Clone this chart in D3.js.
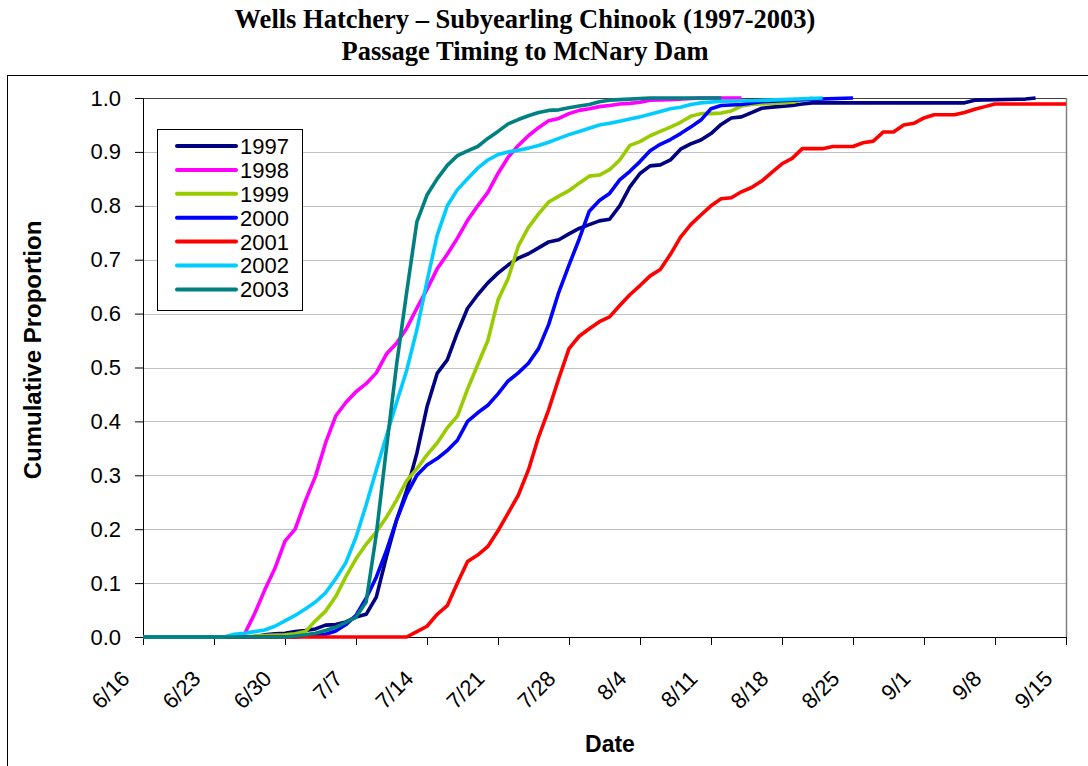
<!DOCTYPE html>
<html><head><meta charset="utf-8">
<script src="https://cdn.jsdelivr.net/npm/d3@7"></script>
<style>body{margin:0;background:#fff;} svg{display:block;}</style>
</head><body>
<svg id="chart" width="1088" height="766"></svg>
<script>
// ---- data ----
const startDate = "6/16/2001";
const endDate = "9/15/2001";
const tickLabels = ["6/16","6/23","6/30","7/7","7/14","7/21","7/28","8/4","8/11","8/18","8/25","9/1","9/8","9/15"];
const yTicks = [0,0.1,0.2,0.3,0.4,0.5,0.6,0.7,0.8,0.9,1.0];
const years = ["1997","1998","1999","2000","2001","2002","2003"];
const colors = ["#000080","#FF00FF","#99CC00","#0000FF","#FF0000","#00CCFF","#008080"];
// [days after 6/16, cumulative proportion]
const s1997 = [[0,0],[11,0],[12,0.004],[13,0.006],[14,0.007],[15,0.01],[16,0.012],[17,0.015],[18,0.022],[19,0.023],[20,0.028],[21,0.037],[22,0.042],[23,0.074],[24,0.149],[25,0.217],[26,0.272],[27,0.341],[28,0.427],[29,0.489],[30,0.514],[31,0.565],[32,0.61],[33,0.635],[34,0.657],[35,0.675],[36,0.69],[37,0.703],[38,0.711],[39,0.722],[40,0.733],[41,0.737],[42,0.748],[43,0.758],[44,0.765],[45,0.772],[46,0.775],[47,0.8],[48,0.835],[49,0.86],[50,0.874],[51,0.876],[52,0.885],[53,0.905],[54,0.915],[55,0.922],[56,0.934],[57,0.951],[58,0.963],[59,0.965],[60,0.973],[61,0.981],[62,0.983],[64,0.986],[65,0.989],[66,0.991],[81,0.991],[82,0.996],[87,0.998],[88,1.0]];
const s1998 = [[0,0],[9,0],[10,0.005],[11,0.043],[12,0.087],[13,0.127],[14,0.178],[15,0.2],[16,0.252],[17,0.298],[18,0.36],[19,0.41],[20,0.435],[21,0.455],[22,0.47],[23,0.49],[24,0.525],[25,0.545],[26,0.573],[27,0.61],[28,0.645],[29,0.683],[30,0.71],[31,0.74],[32,0.773],[33,0.8],[34,0.825],[35,0.86],[36,0.89],[37,0.912],[38,0.93],[39,0.945],[40,0.958],[41,0.962],[42,0.971],[43,0.977],[44,0.98],[45,0.984],[46,0.986],[47,0.989],[48,0.99],[49,0.992],[50,0.996],[52,0.997],[55,1.0],[59,1.0]];
const s1999 = [[0,0],[10,0],[11,0.002],[14,0.004],[15,0.006],[16,0.01],[17,0.03],[18,0.048],[19,0.075],[20,0.112],[21,0.145],[22,0.172],[23,0.195],[24,0.222],[25,0.254],[26,0.29],[27,0.312],[28,0.338],[29,0.36],[30,0.388],[31,0.41],[32,0.46],[33,0.505],[34,0.55],[35,0.625],[36,0.665],[37,0.725],[38,0.76],[39,0.785],[40,0.807],[41,0.818],[42,0.828],[43,0.842],[44,0.855],[45,0.857],[46,0.867],[47,0.885],[48,0.912],[49,0.919],[50,0.93],[51,0.938],[52,0.946],[53,0.955],[54,0.966],[55,0.971],[56,0.971],[57,0.972],[58,0.976],[59,0.985],[60,0.988],[62,0.99],[64,0.992],[66,1.0]];
const s2000 = [[0,0],[15,0],[16,0.002],[17,0.003],[18,0.005],[19,0.011],[20,0.023],[21,0.04],[22,0.072],[23,0.111],[24,0.16],[25,0.217],[26,0.265],[27,0.3],[28,0.319],[29,0.331],[30,0.346],[31,0.365],[32,0.4],[33,0.416],[34,0.43],[35,0.451],[36,0.475],[37,0.49],[38,0.508],[39,0.535],[40,0.58],[41,0.64],[42,0.69],[43,0.738],[44,0.79],[45,0.81],[46,0.823],[47,0.848],[48,0.864],[49,0.882],[50,0.902],[51,0.914],[52,0.923],[53,0.934],[54,0.946],[55,0.959],[56,0.98],[57,0.986],[59,0.988],[61,0.993],[65,0.997],[70,1.0]];
const s2001 = [[0,0],[26,0],[27,0.01],[28,0.02],[29,0.042],[30,0.058],[31,0.1],[32,0.14],[33,0.152],[34,0.168],[35,0.197],[36,0.23],[37,0.263],[38,0.31],[39,0.371],[40,0.422],[41,0.48],[42,0.535],[43,0.558],[44,0.572],[45,0.585],[46,0.594],[47,0.615],[48,0.635],[49,0.652],[50,0.67],[51,0.682],[52,0.71],[53,0.742],[54,0.765],[55,0.783],[56,0.8],[57,0.813],[58,0.815],[59,0.826],[60,0.834],[61,0.846],[62,0.862],[63,0.878],[64,0.888],[65,0.906],[67,0.906],[68,0.91],[70,0.91],[71,0.917],[72,0.92],[73,0.937],[74,0.937],[75,0.95],[76,0.953],[77,0.963],[78,0.969],[80,0.969],[81,0.973],[82,0.979],[83,0.984],[84,0.989],[91,0.989]];
const s2002 = [[0,0],[8,0],[9,0.005],[10,0.007],[11,0.01],[12,0.013],[13,0.02],[14,0.03],[15,0.04],[16,0.052],[17,0.065],[18,0.082],[19,0.108],[20,0.138],[21,0.185],[22,0.245],[23,0.31],[24,0.373],[25,0.435],[26,0.495],[27,0.57],[28,0.66],[29,0.745],[30,0.8],[31,0.83],[32,0.85],[33,0.87],[34,0.885],[35,0.895],[36,0.9],[37,0.903],[38,0.907],[39,0.912],[40,0.918],[41,0.925],[42,0.932],[43,0.938],[44,0.944],[45,0.95],[46,0.953],[47,0.957],[48,0.961],[49,0.965],[50,0.97],[51,0.975],[52,0.98],[53,0.983],[54,0.988],[55,0.991],[57,0.994],[60,0.995],[63,0.997],[67,1.0]];
const s2003 = [[0,0],[14,0],[15,0.002],[16,0.004],[17,0.007],[18,0.012],[19,0.018],[20,0.027],[21,0.037],[22,0.065],[23,0.19],[24,0.35],[25,0.505],[26,0.64],[27,0.77],[28,0.82],[29,0.85],[30,0.875],[31,0.893],[32,0.902],[33,0.91],[34,0.925],[35,0.938],[36,0.952],[37,0.96],[38,0.967],[39,0.973],[40,0.977],[41,0.978],[42,0.982],[43,0.985],[44,0.988],[45,0.993],[46,0.996],[48,0.998],[50,1.0],[57,1.0]];
const seriesData = [s1997,s1998,s1999,s2000,s2001,s2002,s2003];

// ---- chart ----
const svg = d3.select("#chart");
const parse = d3.timeParse("%m/%d/%Y");
const t0 = parse(startDate), t1 = parse(endDate);
const L = 143, R = 1066, T = 98, B = 637;
const x = d3.scaleTime().domain([t0, t1]).range([L, R]);
const y = d3.scaleLinear().domain([0, 1]).range([B, T]);
const FONT = "Arial, 'Liberation Sans', sans-serif";

// outer chart border
svg.append("rect").attr("x", 7.5).attr("y", 75.5).attr("width", 1200).attr("height", 800)
  .attr("fill", "none").attr("stroke", "#000").attr("stroke-width", 1);

// gridlines
svg.append("g").selectAll("line").data(yTicks.filter(v => v > 0 && v < 1)).join("line")
  .attr("x1", L).attr("x2", R).attr("y1", d => Math.round(y(d)) + 0.5).attr("y2", d => Math.round(y(d)) + 0.5)
  .attr("stroke", "#c0c0c0").attr("stroke-width", 1.2);

// plot border top/right
svg.append("line").attr("x1", L).attr("x2", R + 0.5).attr("y1", T + 0.5).attr("y2", T + 0.5).attr("stroke", "#404040");
svg.append("line").attr("x1", R + 0.5).attr("x2", R + 0.5).attr("y1", T).attr("y2", B).attr("stroke", "#808080").attr("stroke-width", 1.5);

// axes
const tickDates = tickLabels.map(s => parse(s + "/2001"));
const xAxis = d3.axisBottom(x).tickValues(tickDates).tickSize(8).tickFormat("");
const gx = svg.append("g").attr("transform", `translate(0,${B})`).call(xAxis);
gx.select(".domain").attr("stroke", "#000");
gx.selectAll(".tick line").attr("stroke", "#000");
svg.append("g").selectAll("text").data(tickLabels).join("text")
  .attr("transform", (d, i) => `translate(${x(tickDates[i]) - 12},680) rotate(-45)`)
  .attr("text-anchor", "end").attr("font-family", FONT).attr("font-size", 22).attr("fill", "#000")
  .text(d => d);

const yAxis = d3.axisLeft(y).tickValues(yTicks).tickSize(8).tickFormat(d3.format(".1f")).tickPadding(14);
const gy = svg.append("g").attr("transform", `translate(${L},0)`).call(yAxis);
gy.select(".domain").attr("stroke", "#000");
gy.selectAll(".tick line").attr("stroke", "#000");
gy.selectAll(".tick text").attr("font-family", FONT).attr("font-size", 22).attr("fill", "#000");

// lines
const line = d3.line()
  .x(d => x(d3.timeDay.offset(t0, d[0])))
  .y(d => y(d[1]));
svg.append("g").selectAll("path").data(seriesData).join("path")
  .attr("d", d => line(d))
  .attr("fill", "none")
  .attr("stroke", (d, i) => colors[i])
  .attr("stroke-width", 3.6)
  .attr("stroke-linejoin", "round");

// legend
const lg = svg.append("g");
lg.append("rect").attr("x", 157.5).attr("y", 129.5).attr("width", 145).attr("height", 181)
  .attr("fill", "#fff").attr("stroke", "#000");
const rows = lg.selectAll("g.row").data(years).join("g").attr("class", "row")
  .attr("transform", (d, i) => `translate(0,${146 + i * 23.9})`);
rows.append("line").attr("x1", 177).attr("x2", 236).attr("y1", 0).attr("y2", 0)
  .attr("stroke", (d, i) => colors[i]).attr("stroke-width", 4).attr("stroke-linecap", "round");
rows.append("text").attr("x", 240).attr("y", 0).attr("dy", "0.36em")
  .attr("font-family", FONT).attr("font-size", 22).attr("fill", "#000").text(d => d);

// titles
const title = svg.append("text").attr("text-anchor", "middle").attr("font-family", "'Liberation Serif', 'Times New Roman', serif")
  .attr("font-weight", "bold").attr("font-size", 26.5).attr("fill", "#000");
title.append("tspan").attr("x", 525).attr("y", 28).text("Wells Hatchery \u2013 Subyearling Chinook (1997-2003)");
title.append("tspan").attr("x", 525).attr("y", 60).text("Passage Timing to McNary Dam");

svg.append("text").attr("transform", "translate(41,350) rotate(-90)").attr("text-anchor", "middle")
  .attr("font-family", FONT).attr("font-weight", "bold").attr("font-size", 24).attr("fill", "#000")
  .text("Cumulative Proportion");
svg.append("text").attr("x", 610).attr("y", 752).attr("text-anchor", "middle")
  .attr("font-family", FONT).attr("font-weight", "bold").attr("font-size", 23).attr("fill", "#000")
  .text("Date");
</script>
</body></html>
